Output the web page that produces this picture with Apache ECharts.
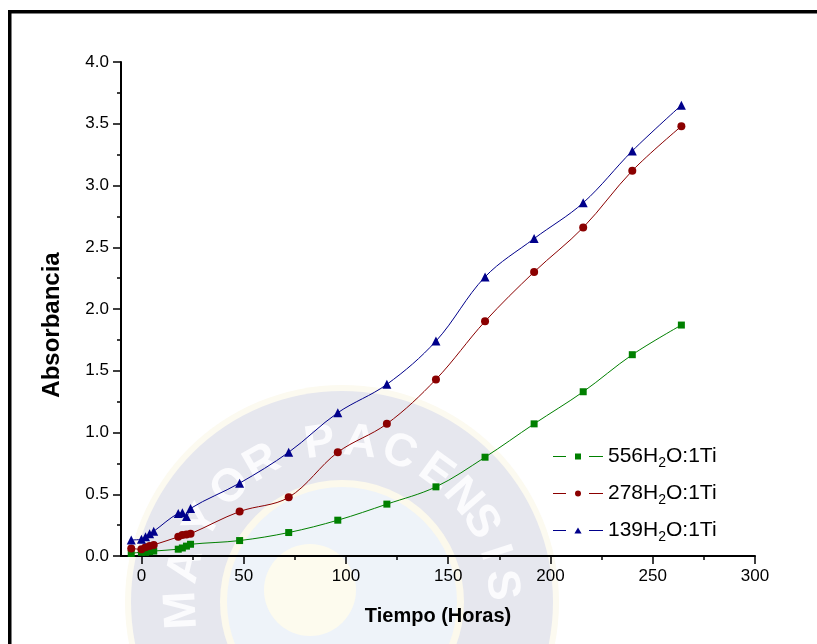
<!DOCTYPE html>
<html>
<head>
<meta charset="utf-8">
<script src="https://cdn.jsdelivr.net/npm/echarts@6/dist/echarts.min.js"></script>
<style>
html, body { margin: 0; padding: 0; background: #fff; }
#chart { width: 817px; height: 644px; }
</style>
</head>
<body>
<div id="chart"></div>
<script>
// tiempo (horas) comun a las tres muestras
const hours = [-5, 0, 2, 4, 6, 18, 20, 22, 24, 48, 72, 96, 120, 144, 168, 192, 216, 240, 264];
const abs556 = [0.02, 0.03, 0.03, 0.035, 0.04, 0.055, 0.065, 0.08, 0.095, 0.125, 0.19, 0.29, 0.42, 0.56, 0.80, 1.07, 1.33, 1.63, 1.87];
const abs278 = [0.06, 0.055, 0.07, 0.08, 0.09, 0.155, 0.17, 0.175, 0.18, 0.36, 0.475, 0.84, 1.07, 1.43, 1.90, 2.30, 2.66, 3.12, 3.48];
const abs139 = [0.13, 0.135, 0.155, 0.18, 0.20, 0.345, 0.35, 0.32, 0.385, 0.59, 0.84, 1.16, 1.39, 1.74, 2.26, 2.57, 2.86, 3.28, 3.65];
const seriesNames = ['556H2O:1Ti', '278H2O:1Ti', '139H2O:1Ti'];
const xMajorTicks = [0, 50, 100, 150, 200, 250, 300];
const xMinorTicks = [25, 75, 125, 175, 225, 275];

const font = "'Liberation Sans', Arial, sans-serif";

function pairs(vals) {
  return hours.map((h, i) => [h, vals[i]]);
}

// icono de leyenda: linea - marcador - linea, con huecos como en Origin
const legendLines = 'M0,3.5h13v1h-13z M36,3.5h14v1h-14z ';
const legendIcons = [
  'path://' + legendLines + 'M22,1h6v6h-6z',
  'path://' + legendLines + 'M25,1a3,3 0 1,0 0.01,0z',
  'path://' + legendLines + 'M25,0.8L28.6,7H21.4z'
];

// marca de agua (sello) de fondo, muy tenue
function watermark() {
  const cx = 342, cy = 602;
  const els = [
    { type: 'circle', shape: { cx: cx, cy: cy, r: 217 }, style: { fill: '#fcfaf0' } },
    { type: 'circle', shape: { cx: cx, cy: cy, r: 211 }, style: { fill: '#e6e7ee' } },
    { type: 'circle', shape: { cx: cx, cy: cy, r: 122 }, style: { fill: '#fcf9ec' } },
    { type: 'circle', shape: { cx: cx, cy: cy, r: 115 }, style: { fill: '#eef3f9' } },
    { type: 'circle', shape: { cx: cx - 32, cy: cy - 12, r: 46 }, style: { fill: '#fdfbee' } }
  ];
  const letters = [
    ['M', -93], ['A', -77], ['Y', -60], ['O', -44], ['R', -30],
    ['P', -8], ['A', 6.5], ['C', 21], ['E', 36], ['N', 49], ['S', 60], ['I', 72], ['S', 84]
  ];
  letters.forEach(([ch, deg]) => {
    const t = deg * Math.PI / 180;
    els.push({
      type: 'text',
      x: cx + 160 * Math.sin(t),
      y: cy - 160 * Math.cos(t),
      rotation: -t,
      style: { text: ch, fill: '#fbfbfd', font: 'bold 46px ' + font, align: 'center', verticalAlign: 'middle' }
    });
  });
  els.forEach(e => { e.z = -10; e.silent = true; });
  return els;
}

const chart = echarts.init(document.getElementById('chart'));

const option = {
  backgroundColor: '#fff',
  animation: false,
  textStyle: { fontFamily: font },
  grid: { left: 121, right: 62, top: 62, bottom: 88, containLabel: false, outerBoundsMode: 'none' },
  legend: {
    orient: 'vertical',
    left: 548,
    top: 441,
    itemWidth: 50,
    itemHeight: 8,
    itemGap: 13,
    data: seriesNames.map((n, i) => ({ name: n, icon: legendIcons[i] })),
    formatter: function (name) {
      const p = name.split('H2O');
      return '{t|' + p[0] + 'H}{s|2}{t|O' + p[1] + '}';
    },
    textStyle: {
      color: '#000',
      rich: {
        t: { fontSize: 21, color: '#000', fontFamily: font },
        s: { fontSize: 14, color: '#000', fontFamily: font, padding: [13, 0, 0, 0] }
      }
    }
  },
  xAxis: [
    {
      type: 'value',
      min: -10,
      max: 300,
      position: 'bottom',
      name: 'Tiempo (Horas)',
      nameLocation: 'middle',
      nameGap: 50,
      nameTextStyle: { fontSize: 20, fontWeight: 'bold', color: '#000', fontFamily: font },
      axisLine: { onZero: false, lineStyle: { color: '#000', width: 2 } },
      axisTick: { customValues: xMajorTicks, length: 8, lineStyle: { color: '#000', width: 1.5 } },
      axisLabel: { customValues: xMajorTicks, fontSize: 17, color: '#000', margin: 12 },
      splitLine: { show: false }
    },
    {
      type: 'value',
      min: -10,
      max: 300,
      position: 'bottom',
      axisLine: { show: false },
      axisTick: { customValues: xMinorTicks, length: 4, lineStyle: { color: '#000', width: 1.5 } },
      axisLabel: { show: false },
      splitLine: { show: false }
    }
  ],
  yAxis: {
    type: 'value',
    min: 0,
    max: 4,
    interval: 0.5,
    name: 'Absorbancia',
    nameLocation: 'middle',
    nameGap: 57,
    nameTextStyle: { fontSize: 24, fontWeight: 'bold', color: '#000', fontFamily: font, padding: [0, 32, 0, 0] },
    axisLine: { show: true, onZero: false, lineStyle: { color: '#000', width: 2 } },
    axisTick: { show: true, length: 8, lineStyle: { color: '#000', width: 1.5 } },
    minorTick: { show: true, splitNumber: 2, length: 4, lineStyle: { color: '#000', width: 1.5 } },
    axisLabel: { fontSize: 17, color: '#000', margin: 12, formatter: v => v.toFixed(1) },
    splitLine: { show: false }
  },
  series: [
    {
      name: seriesNames[0], type: 'line', data: pairs(abs556), smooth: 0.35,
      symbol: 'rect', symbolSize: 7,
      itemStyle: { color: '#008000' }, lineStyle: { color: '#008000', width: 1 }
    },
    {
      name: seriesNames[1], type: 'line', data: pairs(abs278), smooth: 0.35,
      symbol: 'circle', symbolSize: 8,
      itemStyle: { color: '#8b0000' }, lineStyle: { color: '#8b0000', width: 1 }
    },
    {
      name: seriesNames[2], type: 'line', data: pairs(abs139), smooth: 0.35,
      symbol: 'triangle', symbolSize: 9,
      itemStyle: { color: '#00008b' }, lineStyle: { color: '#00008b', width: 1 }
    }
  ],
  graphic: watermark().concat([
    { type: 'rect', shape: { x: 8, y: 10, width: 809, height: 3.5 }, style: { fill: '#000' }, z: 100 },
    { type: 'rect', shape: { x: 8, y: 10, width: 3.5, height: 634 }, style: { fill: '#000' }, z: 100 }
  ])
};

chart.setOption(option);
</script>
</body>
</html>
